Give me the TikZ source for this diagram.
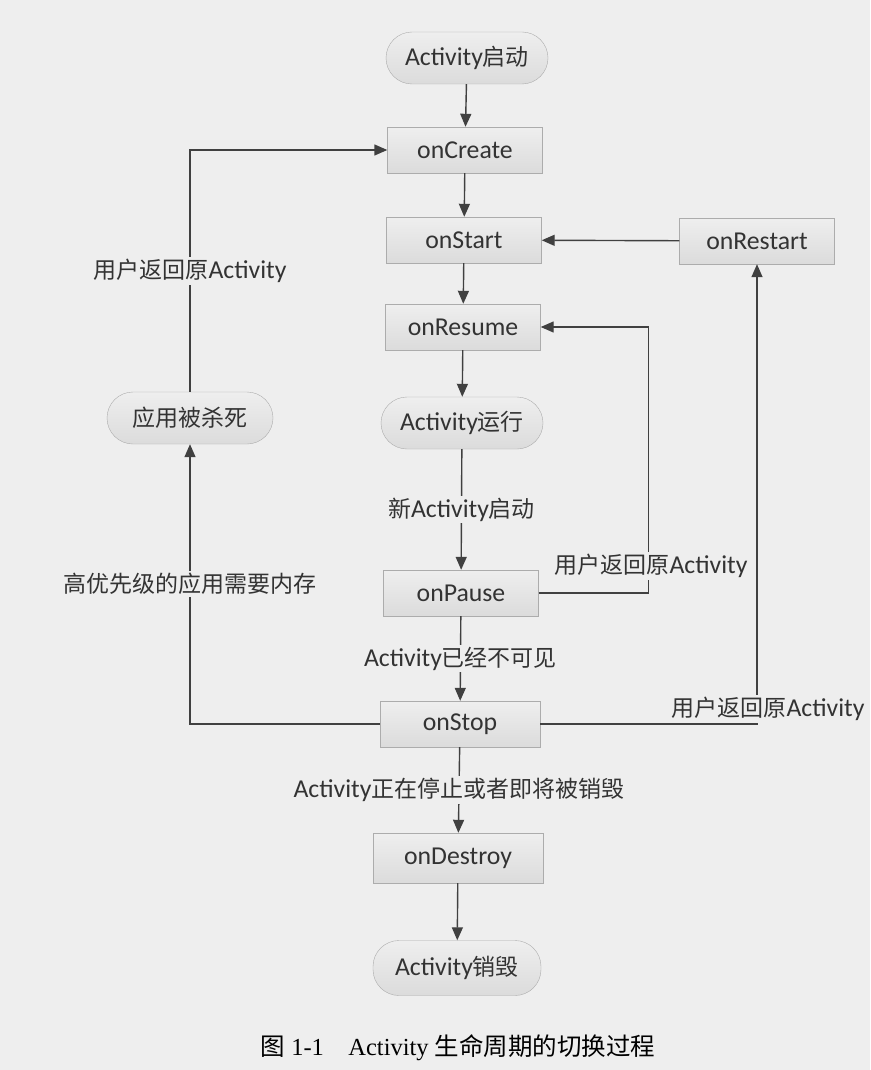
\documentclass[tikz,border=0pt]{standalone}
\usepackage{fontspec}
\setmainfont[Scale=1.12]{Carlito}
\newfontfamily\cjk{Noto Sans CJK SC}
\newfontfamily\capfont{Liberation Serif}
\usetikzlibrary{arrows.meta,positioning}

\begin{document}
\begin{tikzpicture}[x=1pt, y=-1pt, font=\fontsize{23}{27}\selectfont,
        box/.style={draw=gray!65, top color=gray!13, bottom color=gray!28, text=black!80,
            minimum width=155pt, minimum height=46pt, inner sep=2pt},
        pill/.style={box, rounded corners=26pt, minimum width=162pt, minimum height=52pt},
        arr/.style={draw=black!75, line width=1.4pt, -{Triangle[length=13pt,width=11pt]}},
        lbl/.style={fill=gray!13, text=black!80, inner sep=2pt}]
        \fill[gray!13] (0,0) rectangle (870,1070);

        \node[pill] (launch)  at (467,58)  {Activity{\cjk 启动}};
        \node[box]  (create)  at (465,150) {onCreate};
        \node[box]  (start)   at (464,240) {onStart};
        \node[box]  (restart) at (757,241) {onRestart};
        \node[box]  (resume)  at (463,327) {onResume};
        \node[pill] (running) at (462,423) {Activity{\cjk 运行}};
        \node[pill, minimum width=166pt] (killed) at (190,418) {\cjk 应用被杀死};
        \node[box]  (pause)   at (461,593) {onPause};
        \node[box, minimum width=160pt] (stop) at (460,724) {onStop};
        \node[box, minimum width=170pt, minimum height=50pt] (destroy) at (458,858) {onDestroy};
        \node[pill, minimum width=168pt, minimum height=55pt] (gone) at (457,968) {Activity{\cjk 销毁}};

        \foreach \a/\b in {launch/create, create/start, start/resume, resume/running, destroy/gone}
            \draw[arr] (\a) -- (\b);

        \draw[arr] (running) -- node[lbl] {{\cjk 新}Activity{\cjk 启动}} (pause);
        \draw[arr] (pause) -- node[lbl] {Activity{\cjk 已经不可见}} (stop);
        \draw[arr] (stop) -- node[lbl] {Activity{\cjk 正在停止或者即将被销毁}} (destroy);
        \draw[arr] (restart) -- (start);

        % back to onResume
        \draw[arr] (pause.east) -- ++(110,0) |- (resume.east);
        \node[lbl] (back1) at (651,566) {{\cjk 用户返回原}Activity};

        % back to onRestart
        \draw[arr] (stop.east) -| (restart.south);
        \node[lbl] (back2) at (768,709) {{\cjk 用户返回原}Activity};

        % killed, then recreated
        \draw[arr] (stop.west) -| node[lbl, pos=0.75] {\cjk 高优先级的应用需要内存} (killed.south);
        \draw[arr] (killed.north) |- node[lbl, pos=0.25] {{\cjk 用户返回原}Activity} (create.west);

        \node (caption) at (458,1048) {\fontsize{24.5}{28}\selectfont\capfont {\cjk 图} 1-1\quad Activity {\cjk 生命周期的切换过程}};
    \end{tikzpicture}
\end{document}
